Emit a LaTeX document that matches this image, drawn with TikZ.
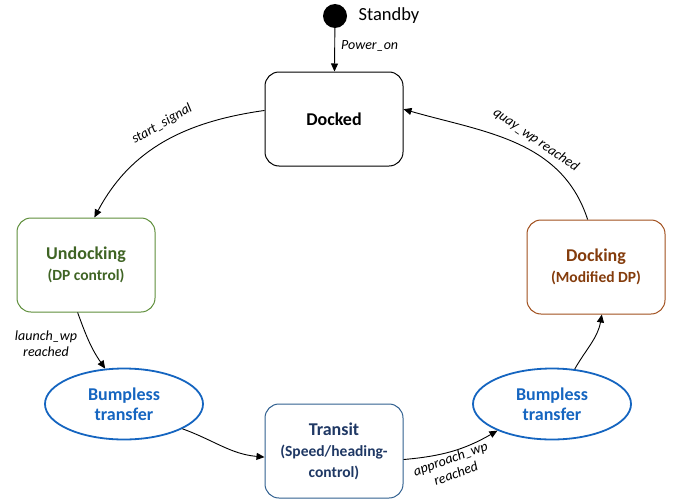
\documentclass[tikz,border=0pt]{standalone}
\usepackage{fontspec}
\setmainfont{Carlito}
\usetikzlibrary{positioning,arrows.meta,shapes.geometric}
\definecolor{undk}{HTML}{5E8E3A}
\definecolor{undktxt}{HTML}{3F6424}
\definecolor{dock}{HTML}{A04E1C}
\definecolor{docktxt}{HTML}{843C0C}
\definecolor{bump}{HTML}{1565C0}
\definecolor{trn}{HTML}{2F5F8F}
\definecolor{trntxt}{HTML}{1F3864}
\newcommand{\subl}[1]{{\fontsize{15.5}{19}\selectfont #1}}
\tikzset{
  state/.style={draw,rounded corners=14pt,minimum width=138pt,minimum height=94pt,line width=1pt,align=center,font=\fontsize{18}{21}\selectfont\bfseries},
  oval/.style={ellipse,draw=bump,line width=1.8pt,minimum width=158pt,minimum height=71pt,inner sep=0pt,align=center,text=bump,font=\fontsize{18}{20}\selectfont\bfseries},
  lab/.style={font=\fontsize{14}{16}\selectfont\itshape,align=center,inner sep=1pt},
  arr/.style={-{Triangle[length=8pt,width=7pt]},line width=0.9pt},
}
\begin{document}
\begin{tikzpicture}[x=1pt,y=-1pt]
\useasboundingbox (0,0) rectangle (684,503);
\node[fill,circle,minimum size=24pt,inner sep=0pt] (init) at (335,16) {};
\node[anchor=west,font=\fontsize{18.5}{21}\selectfont] (stdby) at (355,16) {Standby};
\node[state] (docked) at (334,119) {Docked};
\node[state,draw=undk,text=undktxt] (undock) at (86,265) {Undocking\\\subl{(DP control)}};
\node[state,draw=dock,text=docktxt] (docking) at (596,267) {Docking\\\subl{(Modified DP)}};
\node[oval] (bumpa) at (124,404) {Bumpless\\transfer};
\node[oval] (bumpb) at (552,404) {Bumpless\\transfer};
\node[state,draw=trn,text=trntxt] (transit) at (334,451) {Transit\\\subl{(Speed/heading-}\\\subl{control)}};
\draw[arr] (init) -- (docked);
\draw[arr] (docked.173) to[out=188,in=62] (undock.80);
\draw[arr] (undock.260) to[out=-70,in=125] (bumpa.118);
\draw[arr] (bumpa.-23) to[out=-20,in=175] (transit.185);
\draw[arr] (transit.-7) to[out=5,in=210] (bumpb.206);
\draw[arr] (bumpb.57) to[out=60,in=-100] (docking.-83);
\draw[arr] (docking.100) to[out=108,in=-16] (docked.8);
\node[lab,anchor=west] (lpow) at (340,46) {Power\_on};
\node[lab,rotate=30] (lstart) at (162,124) {start\_signal};
\node[lab,rotate=-35] (lquay) at (536,140) {quay\_wp reached};
\node[lab] (llaunch) at (46,344) {launch\_wp\\reached};
\node[lab,rotate=20] (lappr) at (453,466) {approach\_wp\\reached};
\end{tikzpicture}
\end{document}
